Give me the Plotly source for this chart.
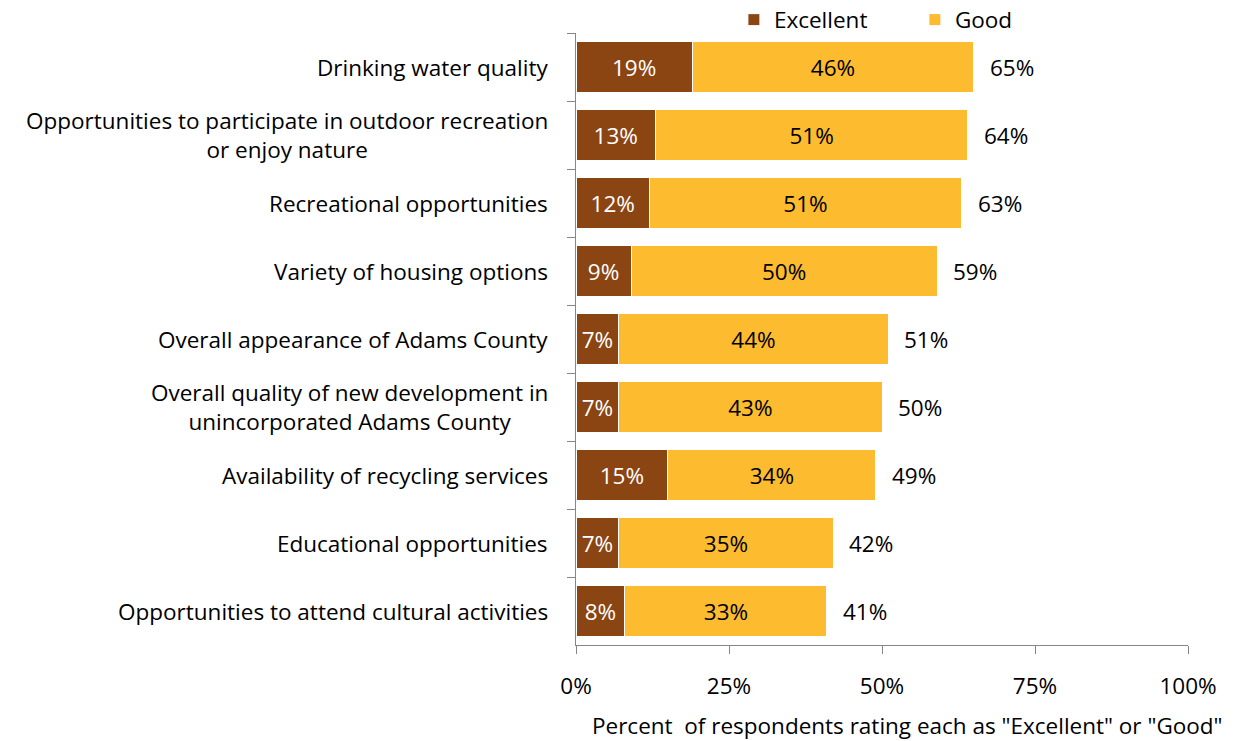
import plotly.graph_objects as go

categories = [
    "Drinking water quality",
    "Opportunities to participate in outdoor recreation<br>or enjoy nature",
    "Recreational opportunities",
    "Variety of housing options",
    "Overall appearance of Adams County",
    "Overall quality of new development in<br>unincorporated Adams County",
    "Availability of recycling services",
    "Educational opportunities",
    "Opportunities to attend cultural activities",
]
excellent = [19, 13, 12, 9, 7, 7, 15, 7, 8]
good = [46, 51, 51, 50, 44, 43, 34, 35, 33]
totals = [65, 64, 63, 59, 51, 50, 49, 42, 41]
x_ticks = [0, 25, 50, 75, 100]
x_tick_labels = ["0%", "25%", "50%", "75%", "100%"]

FONT = "Open Sans"
FS = 22.5

fig = go.Figure()
fig.add_trace(go.Bar(
    y=categories, x=excellent, orientation="h", name="Excellent",
    marker=dict(color="#8B4513", line=dict(color="white", width=1)),
    text=[f"{v}%" for v in excellent], textposition="inside",
    insidetextanchor="middle", textfont=dict(color="white", size=FS, family=FONT),
    width=0.75, hoverinfo="skip",
))
fig.add_trace(go.Bar(
    y=categories, x=good, orientation="h", name="Good",
    marker=dict(color="#FDBB2F", line=dict(color="white", width=1)),
    text=[f"{v}%" for v in good], textposition="inside",
    insidetextanchor="middle", textfont=dict(color="black", size=FS, family=FONT),
    width=0.75, hoverinfo="skip",
))

for c, t in zip(categories, totals):
    fig.add_annotation(x=t, y=c, xref="x", yref="y", text=f"{t}%",
                       showarrow=False, xanchor="left", xshift=14,
                       font=dict(size=FS, family=FONT, color="black"))
    fig.add_annotation(x=0, y=c, xref="paper", yref="y", text=c,
                       showarrow=False, xanchor="right", align="center",
                       xshift=-26, font=dict(size=FS, family=FONT, color="black"))

fig.add_annotation(x=0.541, y=-0.131, xref="paper", yref="paper",
                   text="Percent\u00a0 of respondents rating each as \"Excellent\" or \"Good\"",
                   showarrow=False, xanchor="center", yanchor="middle",
                   font=dict(size=FS, family=FONT, color="black"))

fig.update_layout(
    barmode="stack",
    width=1237, height=733,
    margin=dict(l=568, r=57, t=25, b=96, autoexpand=False),
    paper_bgcolor="white", plot_bgcolor="white",
    font=dict(family=FONT, size=FS, color="black"),
    legend=dict(orientation="h", x=0.258, y=1 + 13 / 612, xref="paper", yref="paper",
                xanchor="left", yanchor="middle",
                font=dict(size=FS, family=FONT), entrywidth=136,
                itemwidth=30, traceorder="normal", bgcolor="rgba(0,0,0,0)"),
    showlegend=True,
)
fig.update_xaxes(range=[0, 100], tickvals=x_ticks, ticktext=x_tick_labels,
                 showgrid=False, zeroline=False, showline=True, linecolor="#868686",
                 linewidth=1, ticks="outside", ticklen=8, tickcolor="#868686",
                 ticklabelstandoff=13, tickfont=dict(size=FS, family=FONT))
fig.update_yaxes(autorange="reversed", showgrid=False, zeroline=False,
                 showline=True, linecolor="#868686", linewidth=1,
                 ticks="outside", ticklen=8, tickcolor="#868686",
                 tickson="boundaries", showticklabels=False)

fig.write_html("out.html")
